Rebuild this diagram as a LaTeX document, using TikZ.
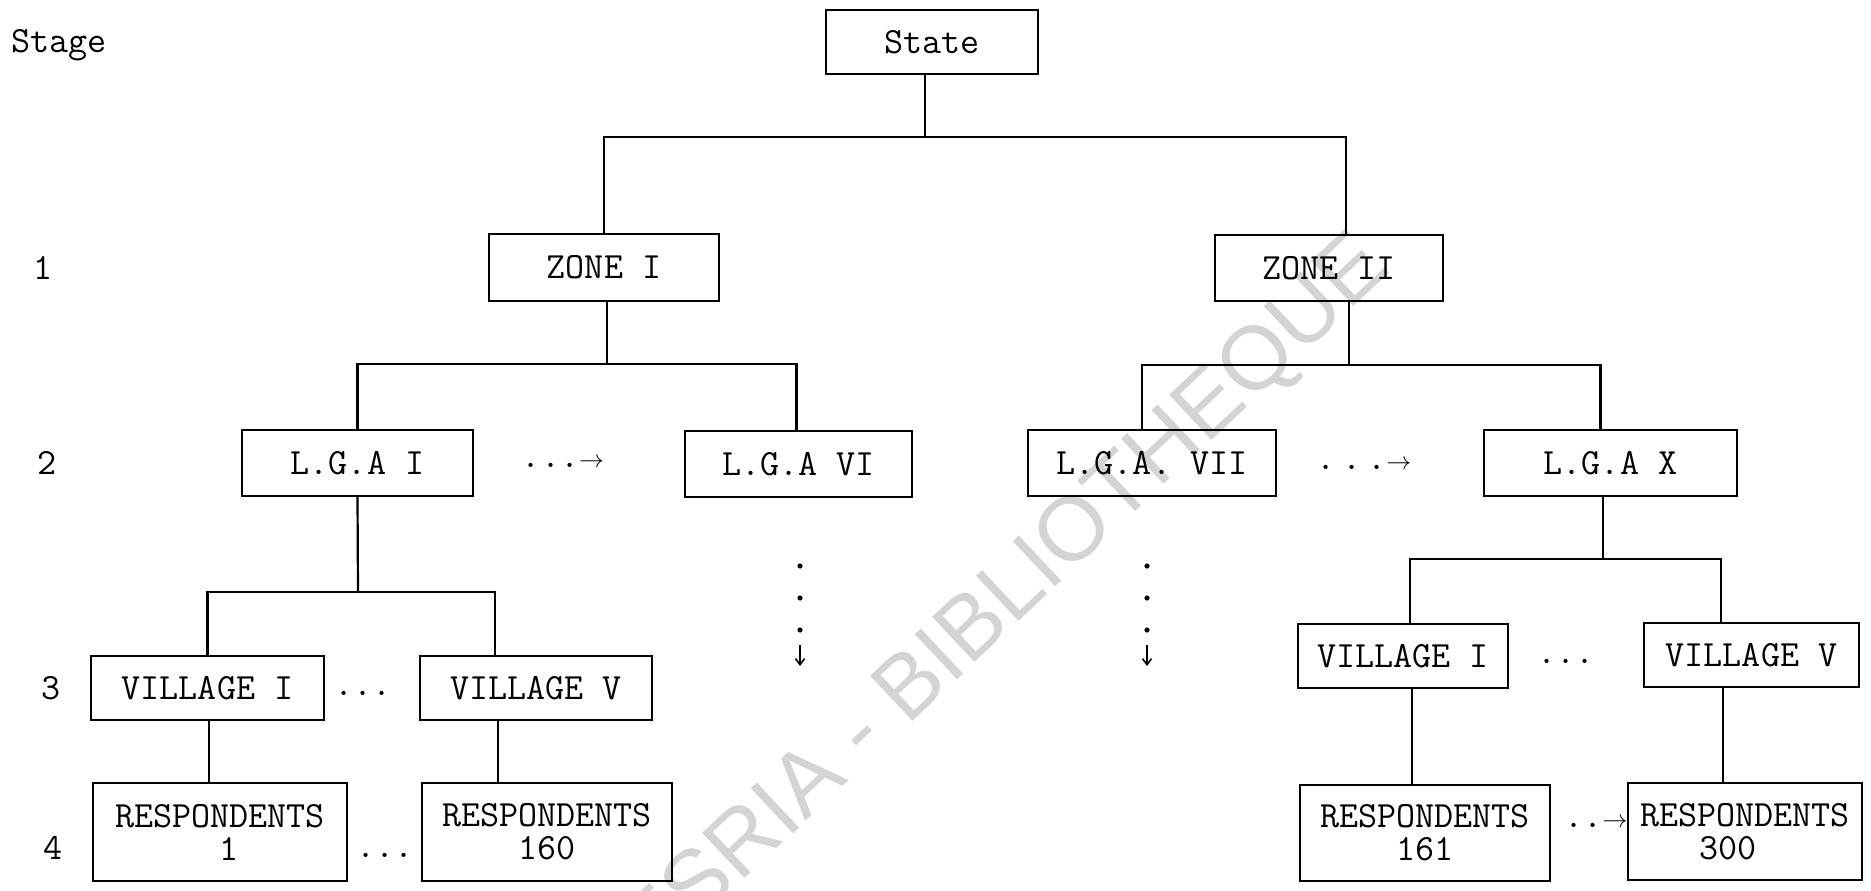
\documentclass[tikz,border=0pt]{standalone}
\usepackage{fontspec}
\newfontfamily\wmfont{Liberation Sans}
\usetikzlibrary{arrows.meta}
\begin{document}
\begin{tikzpicture}[x=1pt,y=-1pt,line width=2.2pt,
  tt/.style={font=\ttfamily\fontsize{37}{33}\selectfont},
  box/.style={tt,draw,line width=2.2pt,inner sep=0pt,align=center},
  lbl/.style={tt,inner sep=0pt},
  vdot/.style={fill=black},
  darr/.style={-{Straight Barb[length=6pt,width=9pt]},line width=1.6pt}]
\useasboundingbox (0,0) rectangle (1871,891);
\fill[white] (0,0) rectangle (1871,891);
% watermark
\node[rotate=43.2,anchor=base east,inner sep=0pt,text=black!17,font=\wmfont\fontsize{90}{90}\selectfont] (wm) at (1393,270) {CODESRIA - BIBLIOTHEQUE};
% boxes
\node[box,minimum width=212pt,minimum height=64pt] (state) at (932,42) {State};
\node[box,minimum width=230pt,minimum height=67pt] (zone1) at (604,267.5) {ZONE I};
\node[box,minimum width=228pt,minimum height=66pt] (zone2) at (1329,268) {ZONE II};
\node[box,minimum width=231pt,minimum height=66pt] (lga1) at (357.5,463) {L.G.A I};
\node[box,minimum width=227pt,minimum height=66pt] (lga6) at (798.5,464) {L.G.A VI};
\node[box,minimum width=248pt,minimum height=66pt] (lga7) at (1152,463) {L.G.A. VII};
\node[box,minimum width=253pt,minimum height=66pt] (lga10) at (1610.5,463) {L.G.A X};
\node[box,minimum width=233pt,minimum height=64pt] (vil1) at (207.5,688) {VILLAGE I};
\node[box,minimum width=232pt,minimum height=64pt] (vil5) at (536,688) {VILLAGE V};
\node[box,minimum width=210pt,minimum height=64pt] (vil1r) at (1403,656) {VILLAGE I};
\node[box,minimum width=215pt,minimum height=64pt] (vil5r) at (1751.5,655) {VILLAGE V};
\node[box,minimum width=254pt,minimum height=98pt] (resp1) at (220,832) {RESPONDENTS\\\hspace*{18pt}1};
\node[box,minimum width=250pt,minimum height=98pt] (resp160) at (547,832) {RESPONDENTS\\160};
\node[box,minimum width=250pt,minimum height=96pt] (resp161) at (1425,833) {RESPONDENTS\\161};
\node[box,minimum width=234pt,minimum height=97pt] (resp300) at (1745,831.5) {RESPONDENTS\\300\hspace*{34pt}};
% junctions
\coordinate (j0) at (925,137);
\coordinate (j1) at (607,364);
\coordinate (j2) at (1349,365);
\coordinate (j3) at (358,592);
\coordinate (j4) at (1603,559);
% connectors
\draw ([xshift=-7pt]state.south) -- (j0);
\draw (zone1.north) |- (j0) -| ([xshift=17pt]zone2.north);
\draw ([xshift=3pt]zone1.south) -- (j1);
\draw (lga1.north) |- (j1) -| ([xshift=-2pt]lga6.north);
\draw ([xshift=20pt]zone2.south) -- (j2);
\draw ([xshift=-10pt]lga7.north) |- (j2) -| ([xshift=-10pt]lga10.north);
\draw (lga1.south) -- (j3);
\draw (vil1.north) |- (j3) -| ([xshift=-41pt]vil5.north);
\draw ([xshift=-7.5pt]lga10.south) -- (j4);
\draw ([xshift=7pt]vil1r.north) |- (j4) -| ([xshift=-30.5pt]vil5r.north);
\draw ([xshift=1.5pt]vil1.south) -- ([xshift=1.5pt]vil1.south |- resp1.north);
\draw ([xshift=-38pt]vil5.south) -- ([xshift=-38pt]vil5.south |- resp160.north);
\draw ([xshift=9pt]vil1r.south) -- ([xshift=9pt]vil1r.south |- resp161.north);
\draw ([xshift=-28.5pt]vil5r.south) -- ([xshift=-28.5pt]vil5r.south |- resp300.north);
% stage labels
\node[lbl,anchor=west] (stage) at (10,45) {Stage};
\node[lbl] (s1) at (43,268) {1};
\node[lbl] (s2) at (47,463) {2};
\node[lbl] (s3) at (51,688) {3};
\node[lbl] (s4) at (53,848) {4};
% ellipses
\node[lbl] (e1) at (563,463) {...{\fontsize{24}{24}\selectfont$\rightarrow$}};
\node[lbl] (e2) at (1364,465) {.\,.\,.{\fontsize{24}{24}\selectfont$\rightarrow$}};
\node[lbl] (e3) at (363,693) {...};
\node[lbl] (e4) at (385,855) {...};
\node[lbl] (e5) at (1566,661) {...};
\node[lbl] (e6) at (1596,823) {..{\fontsize{24}{24}\selectfont$\rightarrow$}};
% vertical dots
\foreach \x in {800,1147}{
  \fill[vdot] (\x,566) circle (2.6);
  \fill[vdot] (\x,598) circle (2.6);
  \fill[vdot] (\x,630) circle (2.6);
  \draw[darr] (\x,645) -- (\x,666);
}
\end{tikzpicture}
\end{document}
